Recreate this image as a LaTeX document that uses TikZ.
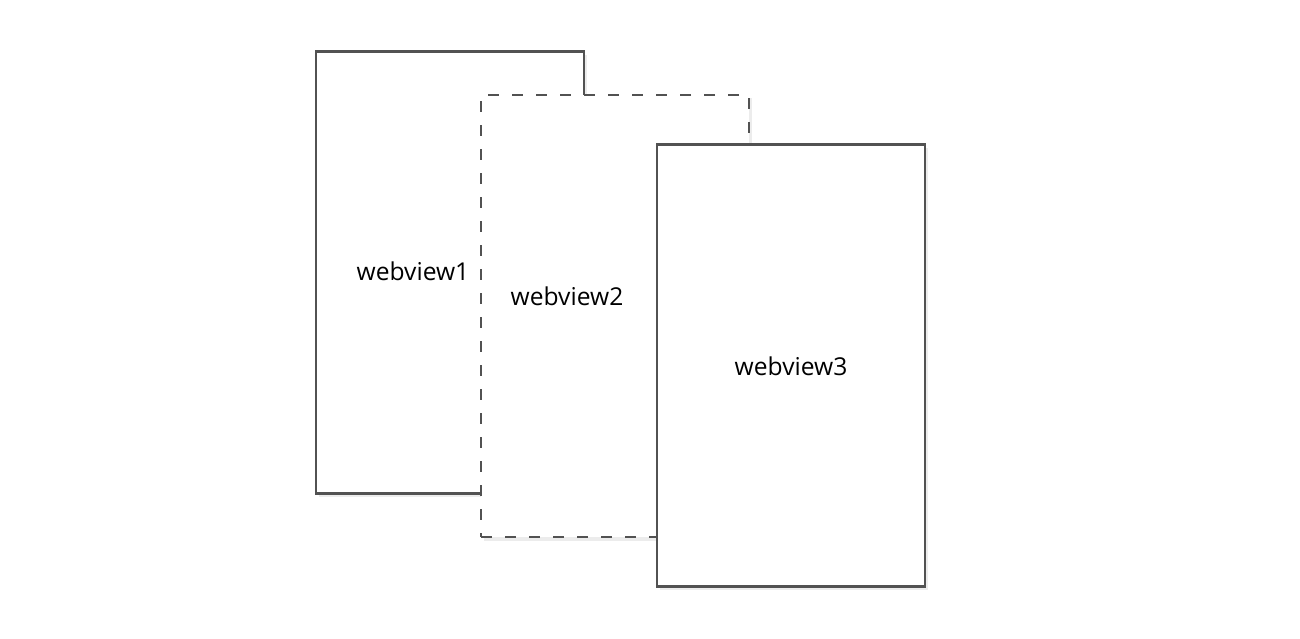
\documentclass[tikz,border=0pt]{standalone}
\usepackage{fontspec}
\setmainfont{Open Sans}
\usetikzlibrary{positioning,shadows}
\tikzset{
  viewbox/.style={draw=black!68, line width=0.65pt, fill=white, minimum width=2.68cm, minimum height=4.42cm, inner sep=0pt,
    drop shadow={opacity=0.15, shadow xshift=0.03cm, shadow yshift=-0.035cm}},
  hiddenbox/.style={viewbox, dash pattern=on 0.11cm off 0.13cm},
  viewlabel/.style={font=\fontsize{7pt}{8pt}\selectfont, inner sep=0pt}
}
\begin{document}
\begin{tikzpicture}
  \useasboundingbox (0,0) rectangle (13,6.38);
  \node[viewbox] (w1) at (4.50,3.655) {};
  \node[hiddenbox] (w2) at (6.15,3.22) {};
  \node[viewbox] (w3) at (7.91,2.725) {};
  \node[viewlabel] (l1) at ([xshift=-0.37cm, yshift=0.015cm]w1.center) {webview1};
  \node[viewlabel] (l2) at ([xshift=-0.48cm, yshift=0.20cm]w2.center) {webview2};
  \node[viewlabel] (l3) at ([yshift=-0.01cm]w3.center) {webview3};
\end{tikzpicture}
\end{document}
